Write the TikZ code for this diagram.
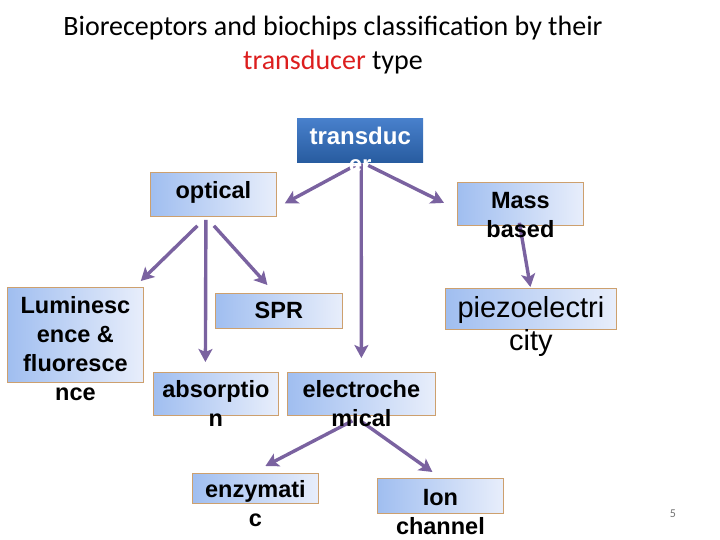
\documentclass[tikz,border=0pt]{standalone}
\usepackage{fontspec}
\setmainfont{Carlito}
\newfontfamily\lsans{Liberation Sans}
\usetikzlibrary{arrows.meta,calc}
\definecolor{boxL}{RGB}{160,190,240}
\definecolor{boxR}{RGB}{232,238,251}
\definecolor{boxborder}{RGB}{205,160,110}
\definecolor{arrowc}{RGB}{122,98,160}
\definecolor{transT}{RGB}{72,128,204}
\definecolor{transB}{RGB}{40,92,160}
\definecolor{titlered}{RGB}{220,30,30}
\tikzset{
  box/.style={draw=boxborder, line width=0.8pt, left color=boxL, right color=boxR, inner sep=0pt, anchor=north west},
  lbl/.style={font=\lsans\bfseries\fontsize{23.5}{29}\selectfont, align=center, inner sep=0pt, anchor=north},
  arr/.style={draw=arrowc, line width=3.4pt, -{Stealth[length=13pt,width=14pt,inset=3pt]}},
}
\begin{document}
\begin{tikzpicture}[x=1pt,y=-1pt]
\useasboundingbox (0,0) rectangle (720,540);
% title
\node[font=\fontsize{28}{34}\selectfont, align=center, inner sep=0pt, anchor=north] (title) at (333,11.5)
  {\strut Bioreceptors and biochips classification by their\\\textcolor{titlered}{transducer} type};
\node[font=\fontsize{12}{14}\selectfont, text=black!55, inner sep=0pt] (pg) at (673,514) {5};
% boxes
\node[draw=none, top color=transT, bottom color=transB, inner sep=0pt, anchor=north west, minimum width=126pt, minimum height=44pt] (trans) at (297,118) {};
\node[box, minimum width=126pt, minimum height=44pt] (opt) at (150,172) {};
\node[box, minimum width=126pt, minimum height=43pt] (mass) at (457,182) {};
\node[box, minimum width=136pt, minimum height=95pt] (lum) at (7,287) {};
\node[box, minimum width=127pt, minimum height=35pt] (spr) at (215,293) {};
\node[box, minimum width=171pt, minimum height=41pt] (piezo) at (445,288) {};
\node[box, minimum width=125pt, minimum height=43pt] (abs) at (153,372) {};
\node[box, minimum width=148pt, minimum height=43pt] (elec) at (287,372) {};
\node[box, minimum width=126pt, minimum height=30pt] (enz) at (192,473) {};
\node[box, minimum width=126pt, minimum height=35pt] (ion) at (377,478) {};
% arrows
\draw[arr] ($(trans.south)+(-5,3)$) -- ($(opt.east)+(8,9)$);
\draw[arr] ($(trans.south)+(8,3)$) -- ($(mass.west)+(-13,-1)$);
\draw[arr] ($(trans.south)+(1,1)$) -- ($(elec.north)+(0,-14)$);
\draw[arr] ($(opt.south)+(-16,9)$) -- ($(lum.north east)+(-3,-6)$);
\draw[arr] ($(opt.south)+(-7.5,3)$) -- ($(abs.north)+(-10.5,-10)$);
\draw[arr] ($(opt.south)+(0.5,9)$) -- ($(spr.north)+(-11.5,-8)$);
\draw[arr] ($(mass.south)+(-1,-3)$) -- ($(piezo.north)+(-0.5,-1)$);
\draw[arr] ($(elec.south)+(-9,5)$) -- ($(enz.north)+(10,-7)$);
\draw[arr] ($(elec.south)+(-1,5)$) -- ($(ion.north)+(-8,-6)$);
% labels
\node[lbl, font=\lsans\bfseries\fontsize{24}{28}\selectfont, text=white] (transT) at ($(trans.north)+(0,6.5)$) {\strut transduc\\er};
\node[lbl] (optT) at ($(opt.north)+(0,6)$) {\strut optical};
\node[lbl] (massT) at ($(mass.north)+(0,6)$) {\strut Mass\\based};
\node[lbl] (lumT) at ($(lum.north)+(0,5.7)$) {\strut Luminesc\\ence \&\\fluoresce\\nce};
\node[lbl] (sprT) at ($(spr.north)+(0,4.5)$) {\strut SPR};
\node[lbl, font=\lsans\fontsize{29}{33}\selectfont] (piezoT) at ($(piezo.north)+(0,5.9)$) {\strut piezoelectri\\city};
\node[lbl] (absT) at ($(abs.north)+(0,5)$) {\strut absorptio\\n};
\node[lbl] (elecT) at ($(elec.north)+(0,5)$) {\strut electroche\\mical};
\node[lbl] (enzT) at ($(enz.north)+(0,4)$) {\strut enzymati\\c};
\node[lbl] (ionT) at ($(ion.north)+(0,6.7)$) {\strut Ion\\channel};
\end{tikzpicture}
\end{document}
